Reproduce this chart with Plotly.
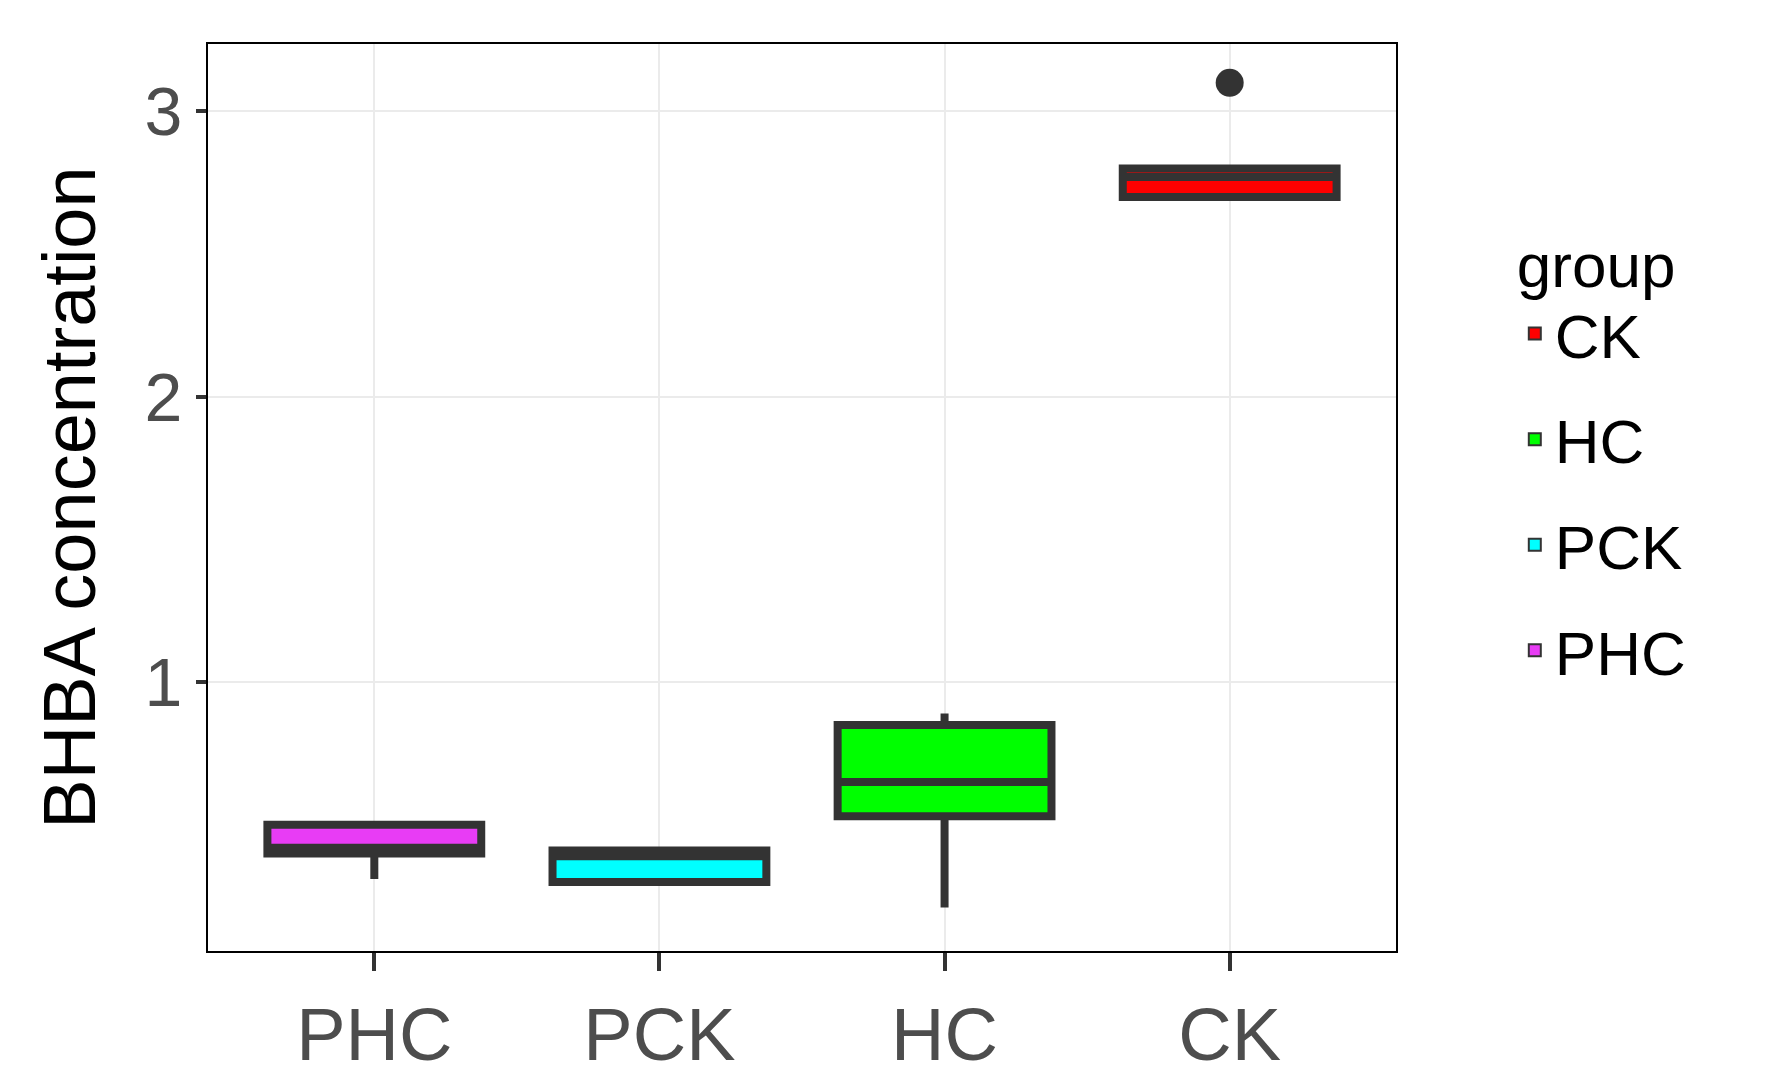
import plotly.graph_objects as go

categories = ["PHC", "PCK", "HC", "CK"]
colors = ["#E83CF5", "#00FFFF", "#00FF00", "#FF0000"]
q1 = [0.40, 0.30, 0.53, 2.70]
median = [0.42, 0.39, 0.65, 2.77]
q3 = [0.50, 0.41, 0.85, 2.80]
lowerfence = [0.31, 0.30, 0.21, 2.70]
upperfence = [0.50, 0.41, 0.89, 2.80]
outlier_x = ["CK"]
outlier_y = [3.10]
legend_order = {"CK": 1, "HC": 2, "PCK": 3, "PHC": 4}

fig = go.Figure()
for i, c in enumerate(categories):
    fig.add_trace(go.Box(
        x=[c], q1=[q1[i]], median=[median[i]], q3=[q3[i]],
        lowerfence=[lowerfence[i]], upperfence=[upperfence[i]],
        name=c, fillcolor=colors[i], line=dict(color="#333333", width=8),
        width=0.75, whiskerwidth=0, boxpoints=False, legendrank=legend_order[c],
        legendgroup=c,
    ))
fig.add_trace(go.Scatter(x=outlier_x, y=outlier_y, mode="markers",
                         marker=dict(color="#333333", size=28), showlegend=False))

fig.update_layout(
    width=1788, height=1080,
    paper_bgcolor="white", plot_bgcolor="white",
    margin=dict(l=200, r=400, t=36, b=137),
    font=dict(family="Liberation Sans, Arial", color="#4D4D4D"),
    showlegend=True,
    legend=dict(title=dict(text="group", font=dict(size=62, color="black")),
                font=dict(size=62, color="black"), x=1.1, xanchor="left",
                y=0.55, yanchor="middle", itemsizing="constant", tracegroupgap=22),
)
fig.update_xaxes(categoryorder="array", categoryarray=categories,
                 showgrid=True, gridcolor="#EBEBEB", gridwidth=2,
                 ticks="outside", ticklen=18, tickwidth=4, tickcolor="#333333",
                 tickfont=dict(size=74, color="#4D4D4D"),
                 showline=True, linecolor="black", linewidth=2, mirror=True)
fig.update_yaxes(range=[0.058, 3.236], tickvals=[1, 2, 3],
                 showgrid=True, gridcolor="#EBEBEB", gridwidth=2,
                 ticks="outside", ticklen=10, tickwidth=4, tickcolor="#333333",
                 tickfont=dict(size=68, color="#4D4D4D"),
                 title=dict(text="BHBA concentration", font=dict(size=74, color="black"), standoff=25),
                 showline=True, linecolor="black", linewidth=2, mirror=True, zeroline=False)
fig.write_html("out.html")
